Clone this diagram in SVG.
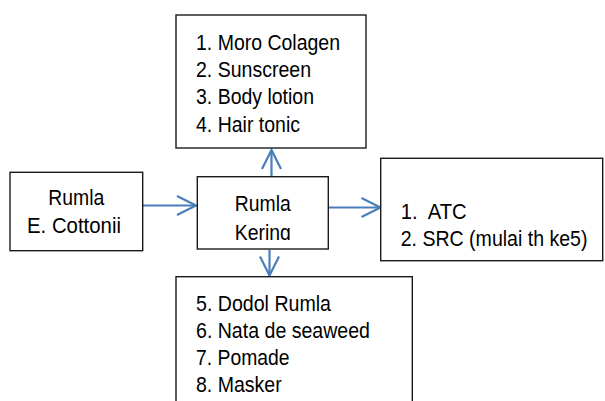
<svg xmlns="http://www.w3.org/2000/svg" width="605" height="401" viewBox="0 0 605 401">
  <style>
    .box { fill: #ffffff; stroke: #1a1a1a; stroke-width: 1.4; }
    .t { font-family: "Liberation Sans", Arial, sans-serif; font-size: 22px; fill: #000000; }
    .c { text-anchor: middle; }
    .conn { stroke: #4A7EBB; stroke-width: 2.2; fill: none; }
  </style>
  <defs>
    <marker id="open" viewBox="-22 -12 24 24" refX="0" refY="0" markerWidth="24" markerHeight="24" markerUnits="userSpaceOnUse" orient="auto">
      <path d="M-19,-9.5 L0,0 L-19,9.5" fill="none" stroke="#4A7EBB" stroke-width="2.2"/>
    </marker>
    <clipPath id="midclip">
      <rect x="197" y="176" width="132" height="64"/>
    </clipPath>
  </defs>

  <g id="connectors">
    <line class="conn" x1="143" y1="205.5" x2="196" y2="205.5" marker-end="url(#open)"/>
    <line class="conn" x1="271.5" y1="176.5" x2="271.5" y2="150" marker-end="url(#open)"/>
    <line class="conn" x1="328.5" y1="207.5" x2="380.5" y2="207.5" marker-end="url(#open)"/>
    <line class="conn" x1="269.5" y1="250" x2="269.5" y2="275.5" marker-end="url(#open)"/>
  </g>

  <g id="node-top">
    <rect class="box" x="176" y="15" width="190" height="133"/>
    <text class="t" x="196" y="49.5" textLength="144" lengthAdjust="spacingAndGlyphs">1. Moro Colagen</text>
    <text class="t" x="196" y="77" textLength="115" lengthAdjust="spacingAndGlyphs">2. Sunscreen</text>
    <text class="t" x="196" y="104" textLength="118" lengthAdjust="spacingAndGlyphs">3. Body lotion</text>
    <text class="t" x="196" y="131.5" textLength="104" lengthAdjust="spacingAndGlyphs">4. Hair tonic</text>
  </g>

  <g id="node-left">
    <rect class="box" x="10" y="172.3" width="132.7" height="78.4"/>
    <text class="t c" x="76.3" y="205" textLength="56" lengthAdjust="spacingAndGlyphs">Rumla</text>
    <text class="t c" x="74" y="233.3" textLength="94" lengthAdjust="spacingAndGlyphs">E. Cottonii</text>
  </g>

  <g id="node-middle">
    <rect class="box" x="197.3" y="176.7" width="131" height="72.3"/>
    <g clip-path="url(#midclip)">
      <text class="t c" x="262.8" y="211" textLength="56" lengthAdjust="spacingAndGlyphs">Rumla</text>
      <text class="t c" x="262.8" y="239.5" textLength="56" lengthAdjust="spacingAndGlyphs">Kering</text>
    </g>
  </g>

  <g id="node-right">
    <rect class="box" x="380.7" y="158.3" width="222" height="102.4"/>
    <text class="t" x="400.7" y="219.3" textLength="66" lengthAdjust="spacingAndGlyphs" xml:space="preserve">1.  ATC</text>
    <text class="t" transform="translate(400.7,245.5) scale(0.889,1)" x="0" y="0">2. SRC (mulai th ke5)</text>
  </g>

  <g id="node-bottom">
    <rect class="box" x="176" y="276.7" width="236.3" height="140"/>
    <text class="t" x="196" y="310.7" textLength="135" lengthAdjust="spacingAndGlyphs">5. Dodol Rumla</text>
    <text class="t" x="196" y="337.7" textLength="174" lengthAdjust="spacingAndGlyphs">6. Nata de seaweed</text>
    <text class="t" x="196" y="365" textLength="93.5" lengthAdjust="spacingAndGlyphs">7. Pomade</text>
    <text class="t" x="196" y="392.3" textLength="85.7" lengthAdjust="spacingAndGlyphs">8. Masker</text>
  </g>
</svg>
